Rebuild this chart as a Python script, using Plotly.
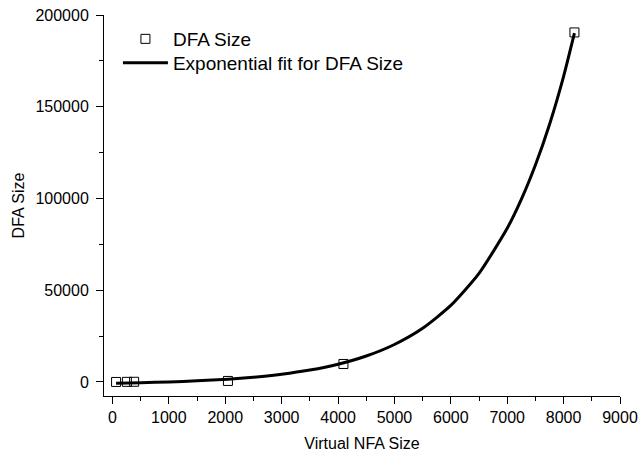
import plotly.graph_objects as go

# Measured data points
nfa_size = [64, 256, 384, 2048, 4096, 8192]
dfa_size = [0, 60, 100, 550, 9800, 190500]

# Exponential fit curve
fit_x = [64, 500, 1000, 1500, 2048, 2500, 3000, 3500, 4000, 4500, 5000, 5500, 6000, 6500, 7000, 7250, 7500, 7750, 8000, 8192]
fit_y = [-650, -380, 40, 620, 1530, 2590, 4200, 6470, 9660, 14140, 20430, 29270, 41720, 59190, 83740, 99500, 118250, 140360, 166600, 190100]

x_ticks = [0, 1000, 2000, 3000, 4000, 5000, 6000, 7000, 8000, 9000]
y_ticks = [0, 50000, 100000, 150000, 200000]

FONT = "Arial, Liberation Sans, sans-serif"

fig = go.Figure()
fig.add_trace(go.Scatter(
    x=nfa_size, y=dfa_size, mode="markers", name="DFA Size", legend="legend",
    marker=dict(symbol="square-open", size=9, color="#000000", line=dict(width=1, color="#000000")),
))
fig.add_trace(go.Scatter(
    x=fit_x, y=fit_y, mode="lines", name="Exponential fit for DFA Size", legend="legend2",
    line=dict(color="#000000", width=3, shape="spline", smoothing=0.6),
))

axis_common = dict(
    showgrid=False, zeroline=False, showline=True, linecolor="#000000", linewidth=1,
    ticks="outside", ticklen=7, tickwidth=1, tickcolor="#000000",
    tickfont=dict(family=FONT, size=16, color="#000000"),
    mirror=False, tickformat="d", automargin=False,
)

legend_common = dict(
    x=0.027, xanchor="left", yanchor="middle",
    bgcolor="rgba(0,0,0,0)", font=dict(family=FONT, size=19, color="#000000"),
    itemwidth=45,
)

fig.update_layout(
    width=640, height=457,
    margin=dict(l=104, r=20, t=15, b=61),
    paper_bgcolor="white", plot_bgcolor="white",
    font=dict(family=FONT, size=16, color="#000000"),
    xaxis=dict(
        range=[-150, 9000], tickvals=x_ticks,
        title=dict(text="Virtual NFA Size", font=dict(family=FONT, size=16), standoff=12),
        minor=dict(dtick=500, ticks="outside", ticklen=4, tickcolor="#000000"),
        **axis_common,
    ),
    yaxis=dict(
        range=[-7650, 200000], tickvals=y_ticks,
        title=dict(text="DFA Size", font=dict(family=FONT, size=16), standoff=6),
        minor=dict(dtick=25000, ticks="outside", ticklen=4, tickcolor="#000000"),
        ticklabelstandoff=4,
        **axis_common,
    ),
    legend=dict(y=0.937, **legend_common),
    legend2=dict(y=0.874, **legend_common),
    showlegend=True,
)

fig.write_html(
    "out.html",
    config={"displayModeBar": False},
    post_script="document.body.style.margin='0';document.body.style.padding='0';",
)
